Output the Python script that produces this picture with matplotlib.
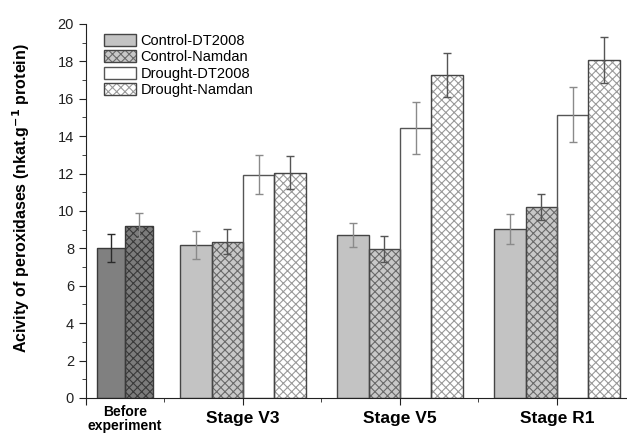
import matplotlib
matplotlib.use("Agg")
import matplotlib.pyplot as plt
import matplotlib.patches as mpatches
from matplotlib.ticker import MultipleLocator

plt.rcParams['font.family'] = ['Liberation Sans', 'DejaVu Sans']
plt.rcParams['hatch.linewidth'] = 0.8

# Data
stages = ["Stage V3", "Stage V5", "Stage R1"]
series = ["Control-DT2008", "Control-Namdan", "Drought-DT2008", "Drought-Namdan"]
values = {
    "Control-DT2008": [8.18, 8.72, 9.05],
    "Control-Namdan": [8.35, 7.95, 10.22],
    "Drought-DT2008": [11.94, 14.42, 15.15],
    "Drought-Namdan": [12.05, 17.25, 18.07],
}
errors = {
    "Control-DT2008": [0.75, 0.64, 0.80],
    "Control-Namdan": [0.67, 0.70, 0.70],
    "Drought-DT2008": [1.05, 1.38, 1.45],
    "Drought-Namdan": [0.90, 1.18, 1.23],
}
before_label = "Before\nexperiment"
before_values = [8.0, 9.22]
before_errors = [0.75, 0.65]

styles = {
    "Control-DT2008": dict(fc="#c3c3c3", hatch=None, hc=None, ec="#454545", err="#8a8a8a"),
    "Control-Namdan": dict(fc="#c8c8c8", hatch="xxxx", hc="#6a6a6a", ec="#454545", err="#555555"),
    "Drought-DT2008": dict(fc="#ffffff", hatch=None, hc=None, ec="#555555", err="#8a8a8a"),
    "Drought-Namdan": dict(fc="#ffffff", hatch="xxxx", hc="#9a9a9a", ec="#454545", err="#555555"),
}
before_styles = [
    dict(fc="#808080", hatch=None, hc=None, ec="#3a3a3a", err="#2a2a2a"),
    dict(fc="#7c7c7c", hatch="xxxx", hc="#3a3a3a", ec="#3a3a3a", err="#8a8a8a"),
]

fig = plt.figure(figsize=(6.27, 4.34), dpi=100)
ax = fig.add_axes([0.137, 0.083, 0.863, 0.862])

w = 0.2
centers = [1, 2, 3]


def draw_bar(x, v, e, st, width):
    if st["hatch"]:
        ax.bar(x, v, width, color=st["fc"], edgecolor=st["hc"], hatch=st["hatch"], linewidth=0, zorder=2)
    else:
        ax.bar(x, v, width, color=st["fc"], linewidth=0, zorder=2)
    ax.bar(x, v, width, fill=False, edgecolor=st["ec"], linewidth=1.0, zorder=3)
    ax.errorbar(x, v, yerr=e, fmt="none", ecolor=st["err"], elinewidth=1.0,
                capsize=3, capthick=1.0, zorder=4)


for i, s in enumerate(series):
    for j, c in enumerate(centers):
        x = c + (i - 1.5) * w
        draw_bar(x, values[s][j], errors[s][j], styles[s], w)

bw = 0.18
for k in range(2):
    x = 0.25 + (k - 0.5) * bw
    draw_bar(x, before_values[k], before_errors[k], before_styles[k], bw)

ax.set_xlim(0, 3.446)
ax.set_ylim(0, 20)
ax.spines["top"].set_visible(False)
ax.spines["right"].set_visible(False)
ax.spines["left"].set_color("#222222")
ax.spines["bottom"].set_color("#222222")

ax.yaxis.set_major_locator(MultipleLocator(2))
ax.yaxis.set_minor_locator(MultipleLocator(1))
ax.tick_params(axis="y", which="major", direction="out", length=5, labelsize=10.5, colors="#222222")
ax.tick_params(axis="y", which="minor", direction="out", length=3, colors="#222222")

ax.set_xticks([0, 1, 2, 3])
ax.set_xticks([0.5, 1.5, 2.5], minor=True)
ax.set_xticklabels([])
ax.tick_params(axis="x", which="major", direction="out", length=5, colors="#222222")
ax.tick_params(axis="x", which="minor", direction="out", length=3, colors="#222222")

for c, s in zip(centers, stages):
    ax.text(c, -0.7, s, ha="center", va="top", fontsize=12.5, fontweight="bold",
            transform=ax.transData)
ax.text(0.25, -0.4, before_label, ha="center", va="top", fontsize=10,
        fontweight="bold", linespacing=1.0, transform=ax.transData)

ax.set_ylabel("Acivity of peroxidases (nkat.g$^{\\mathbf{-1}}$ protein)",
              fontsize=11.5, fontweight="bold")
ax.yaxis.set_label_coords(-0.1, 0.535)

handles = []
for s in series:
    st = styles[s]
    if st["hatch"]:
        p1 = mpatches.Patch(facecolor=st["fc"], edgecolor=st["hc"], hatch=st["hatch"], linewidth=0)
    else:
        p1 = mpatches.Patch(facecolor=st["fc"], linewidth=0)
    p2 = mpatches.Patch(fill=False, edgecolor=st["ec"], linewidth=1.0)
    handles.append((p1, p2))

ax.legend(handles, series, loc="upper left", bbox_to_anchor=(0.015, 1.0),
          frameon=False, fontsize=10.5, handlelength=2.2, handleheight=0.9,
          labelspacing=0.15, handletextpad=0.3, borderaxespad=0.3)

fig.savefig("out.png", dpi=100)
